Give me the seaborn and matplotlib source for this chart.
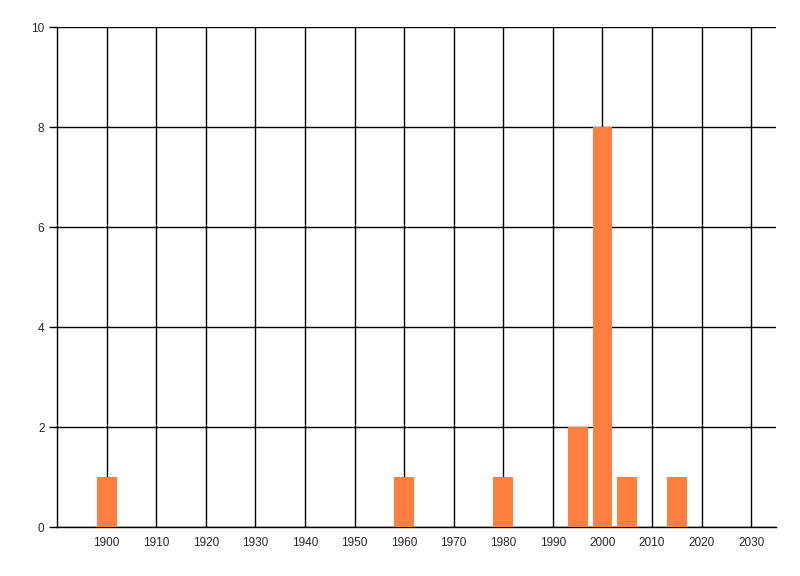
import pandas as pd
import matplotlib
matplotlib.use("Agg")
import matplotlib.pyplot as plt
import seaborn as sns

# jahre und anzahl
years = [1900, 1960, 1980, 1995, 2000, 2005, 2015]
counts = [1, 1, 1, 2, 8, 1, 1]
x_ticks = list(range(1900, 2031, 10))
y_ticks = [0, 2, 4, 6, 8, 10]

df = pd.DataFrame({"year": years, "count": counts})

sns.set_style("white")
plt.rcParams["font.family"] = ["Liberation Sans", "DejaVu Sans"]

fig = plt.figure(figsize=(8, 5.76), dpi=100)
ax = fig.add_axes([57 / 800, 1 - 527 / 576, (776 - 57) / 800, (527 - 27) / 576])

sns.barplot(data=df, x="year", y="count", native_scale=True, width=0.8,
            color="#FF7F3F", saturation=1, edgecolor="none", ax=ax, zorder=3)

ax.set_xlim(1890, 2035)
ax.set_ylim(0, 10)
ax.set_xticks(x_ticks)
ax.set_yticks(y_ticks)
ax.set_xticklabels([str(t) for t in x_ticks])
ax.set_yticklabels([str(t) for t in y_ticks])

ax.grid(True, color="black", linewidth=1.0)
ax.set_axisbelow(True)
for side in ["top", "right"]:
    ax.spines[side].set_visible(False)
for side in ["left", "bottom"]:
    ax.spines[side].set_color("black")
    ax.spines[side].set_linewidth(1.0)

ax.tick_params(axis="y", length=6, width=1.0, color="black", pad=3, labelsize=8.5, left=True)
ax.tick_params(axis="x", length=0, pad=7, labelsize=8.5)
ax.set_xlabel("")
ax.set_ylabel("")

fig.savefig("out.png", dpi=100)
